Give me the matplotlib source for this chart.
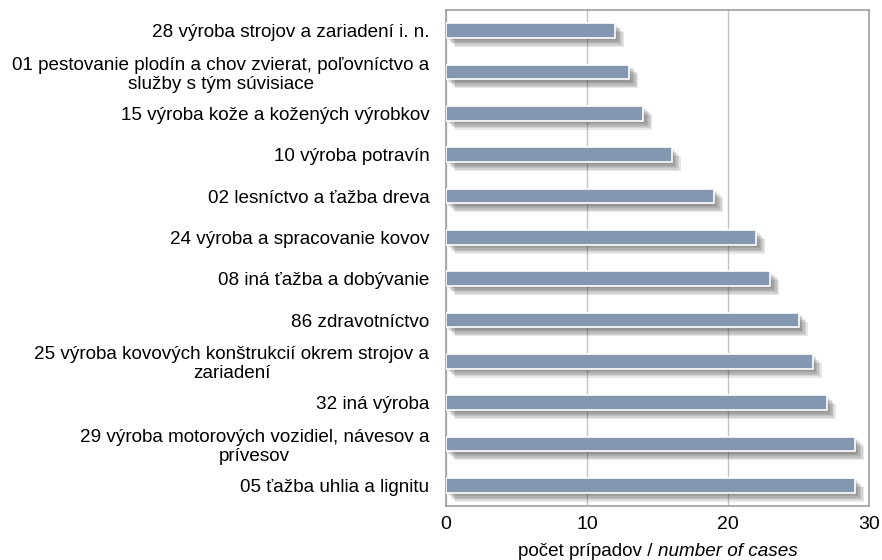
import matplotlib.pyplot as plt
import matplotlib.patheffects as pe

plt.rcParams['font.family'] = ['Liberation Sans', 'DejaVu Sans']

# top to bottom as in the picture
labels = [
    "28 výroba strojov a zariadení i. n.",
    "01 pestovanie plodín a chov zvierat, poľovníctvo a\nslužby s tým súvisiace",
    "15 výroba kože a kožených výrobkov",
    "10 výroba potravín",
    "02 lesníctvo a ťažba dreva",
    "24 výroba a spracovanie kovov",
    "08 iná ťažba a dobývanie",
    "86 zdravotníctvo",
    "25 výroba kovových konštrukcií okrem strojov a\nzariadení",
    "32 iná výroba",
    "29 výroba motorových vozidiel, návesov a\nprívesov",
    "05 ťažba uhlia a lignitu",
]
cases = [12, 13, 14, 16, 19, 22, 23, 25, 26, 27, 29, 29]

fig = plt.figure(figsize=(8.82, 5.6), dpi=100)
ax = fig.add_axes([446 / 882, 1 - 506 / 560, 423 / 882, 496 / 560])

ypos = list(range(len(labels)))
bars = ax.barh(ypos, cases, height=0.36, color='#8497B0',
               edgecolor='white', linewidth=1.2, zorder=3)
# soft shadow: a few stacked offsets
shadow = [pe.SimplePatchShadow(offset=(d, -d), shadow_rgbFace='#404040', alpha=0.12)
          for d in (1.5, 2.5, 3.5, 4.5, 5.5, 6.5)]
for b in bars:
    b.set_path_effects(shadow + [pe.Normal()])

ax.set_ylim(len(labels) - 0.5, -0.5)
ax.set_xlim(0, 30)
ax.set_xticks([0, 10, 20, 30])
ax.set_yticks(ypos)
ax.set_yticklabels(labels, fontsize=13.6, multialignment='center', linespacing=1.12)
ax.tick_params(axis='y', length=0, pad=12)
ax.tick_params(axis='x', length=0, pad=7, labelsize=14)
ax.grid(axis='x', color='#C4C4C4', linewidth=1, zorder=0)
for s in ax.spines.values():
    s.set_color('#A0A0A0')
    s.set_linewidth(1.2)

xc = 0.5 * (446 + 869) / 882
fig.text(xc, 1 - 552 / 560, "počet prípadov / ", fontsize=13.6, ha='right', va='center')
fig.text(xc, 1 - 552 / 560, "number of cases", fontsize=13.6, ha='left', va='center',
         style='italic')

fig.savefig("out.png", dpi=100)
